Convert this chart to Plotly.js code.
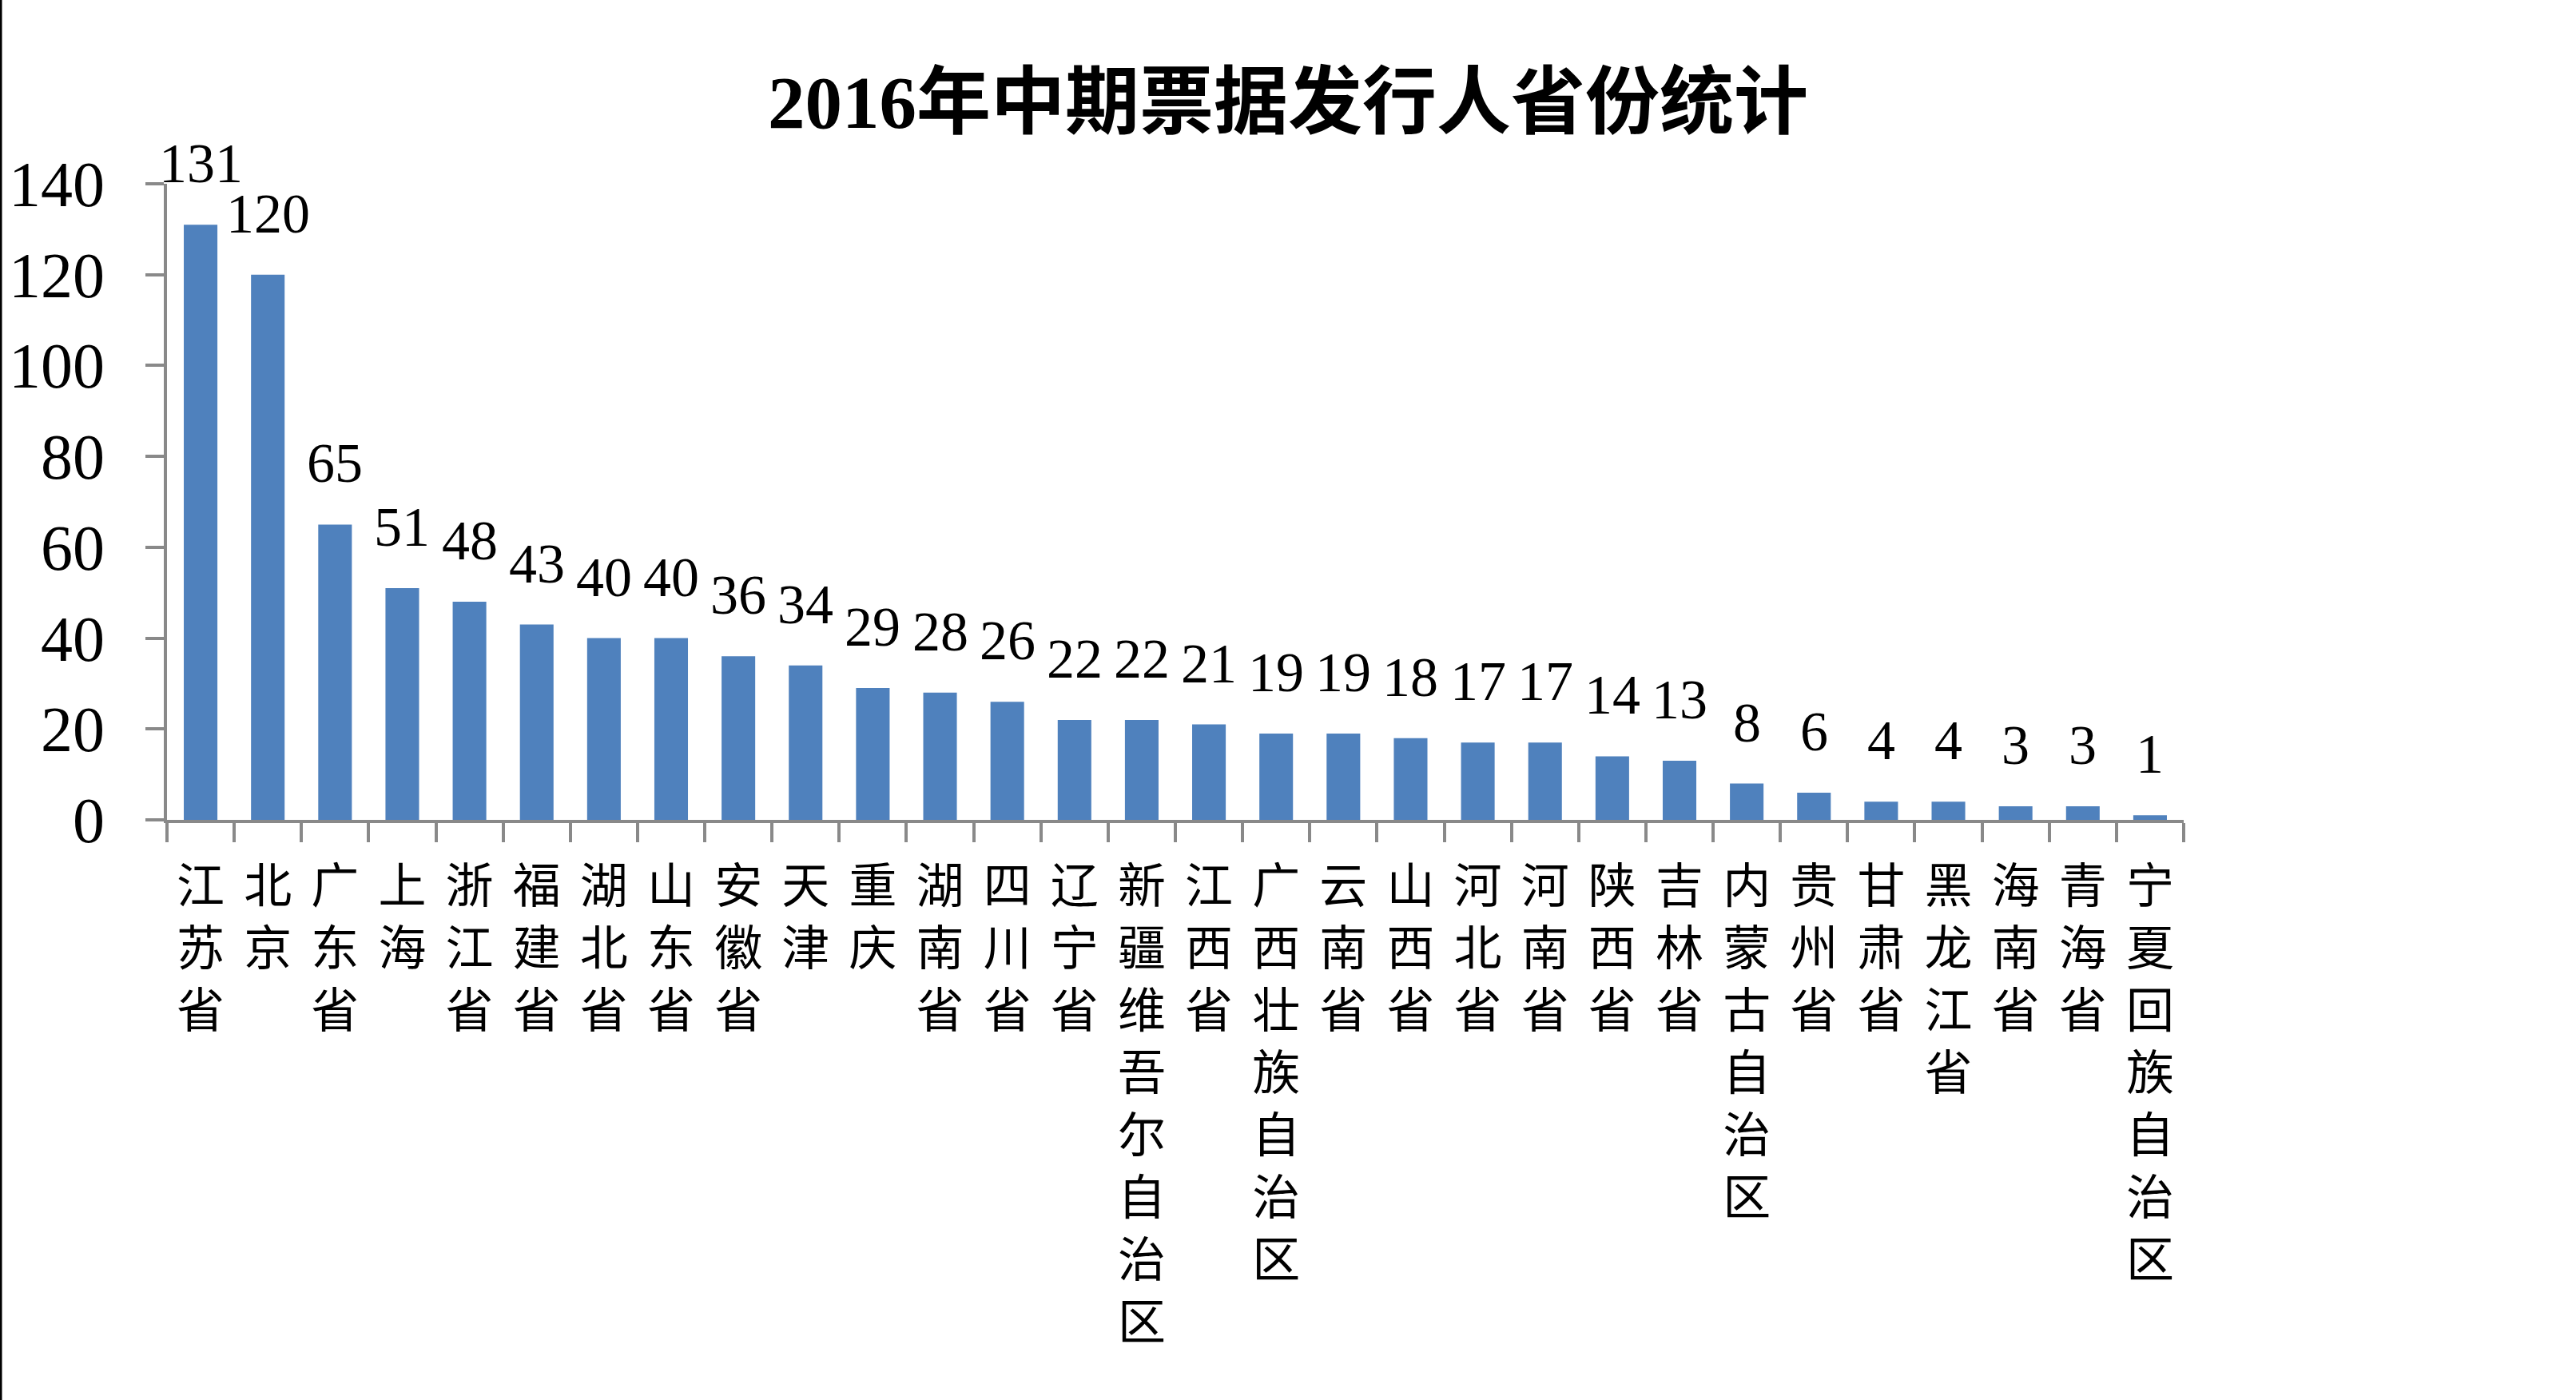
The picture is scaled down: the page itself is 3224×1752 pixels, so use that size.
<!DOCTYPE html>
<html>
<head>
<meta charset="utf-8">
<script src="https://cdn.plot.ly/plotly-3.0.1.min.js"></script>
<style>
  html, body { margin: 0; padding: 0; background: #ffffff; }
  #chart { width: 3224px; height: 1752px; }
</style>
</head>
<body>
<div id="chart"></div>
<script>
// ---- data ----
const provinces = ["江苏省", "北京", "广东省", "上海", "浙江省", "福建省", "湖北省", "山东省", "安徽省", "天津",
  "重庆", "湖南省", "四川省", "辽宁省", "新疆维吾尔自治区", "江西省", "广西壮族自治区", "云南省", "山西省", "河北省",
  "河南省", "陕西省", "吉林省", "内蒙古自治区", "贵州省", "甘肃省", "黑龙江省", "海南省", "青海省", "宁夏回族自治区"];
const issuerCounts = [131, 120, 65, 51, 48, 43, 40, 40, 36, 34,
  29, 28, 26, 22, 22, 21, 19, 19, 18, 17,
  17, 14, 13, 8, 6, 4, 4, 3, 3, 1];
const yTickValues = [0, 20, 40, 60, 80, 100, 120, 140];
const chartTitle = "2016年中期票据发行人省份统计";

// vertical (one character per line) category labels
const verticalLabels = provinces.map(p => Array.from(p).join("<br>"));

const W = 3224, H = 1752;
const margin = { l: 209, r: 491, t: 230, b: 726 };
const plotW = W - margin.l - margin.r;
const plotH = H - margin.t - margin.b;

const fontFamily = '"Liberation Serif", "Times New Roman", "Noto Sans CJK SC", serif';
const axisColor = "#898989";

const trace = {
  type: "bar",
  x: provinces,
  y: issuerCounts,
  marker: { color: "#4F81BD", line: { width: 0 } },
  hoverinfo: "x+y"
};

const annotations = provinces.map((p, i) => ({
  x: p,
  y: issuerCounts[i],
  xref: "x",
  yref: "y",
  text: String(issuerCounts[i]),
  showarrow: false,
  yanchor: "bottom",
  xanchor: "center",
  yshift: 36,
  font: { family: fontFamily, size: 70, color: "#000000" }
}));

const layout = {
  width: W,
  height: H,
  margin: margin,
  paper_bgcolor: "#ffffff",
  plot_bgcolor: "#ffffff",
  showlegend: false,
  bargap: 0.5,
  title: {
    text: "<b>" + chartTitle + "</b>",
    xref: "container",
    x: 0.5,
    xanchor: "center",
    yref: "container",
    y: 1 - 127 / H,
    yanchor: "middle",
    font: { family: fontFamily, size: 93, color: "#000000" }
  },
  xaxis: {
    type: "category",
    range: [-0.5, provinces.length - 0.5],
    autorange: false,
    tickmode: "array",
    tickvals: provinces,
    ticktext: verticalLabels,
    tickangle: 0,
    showline: true,
    linecolor: axisColor,
    linewidth: 4,
    ticks: "outside",
    tickson: "boundaries",
    ticklen: 24,
    tickwidth: 4,
    tickcolor: axisColor,
    showgrid: false,
    zeroline: false,
    tickfont: { family: fontFamily, size: 60, color: "#000000" },
    ticklabelstandoff: 28
  },
  yaxis: {
    range: [0, 140],
    autorange: false,
    tickmode: "array",
    tickvals: yTickValues,
    ticktext: yTickValues.map(String),
    showline: true,
    linecolor: axisColor,
    linewidth: 4,
    ticks: "outside",
    ticklen: 23,
    tickwidth: 4,
    tickcolor: axisColor,
    showgrid: false,
    zeroline: false,
    tickfont: { family: fontFamily, size: 80, color: "#000000" },
    ticklabelstandoff: 35
  },
  annotations: annotations,
  shapes: [{
    type: "line",
    xref: "paper", yref: "paper",
    x0: (1 - margin.l) / plotW, x1: (1 - margin.l) / plotW,
    y0: -margin.b / plotH, y1: 1 + margin.t / plotH,
    line: { color: "#000000", width: 3 }
  }]
};

Plotly.newPlot("chart", [trace], layout, { displayModeBar: false, staticPlot: true });
</script>
</body>
</html>
